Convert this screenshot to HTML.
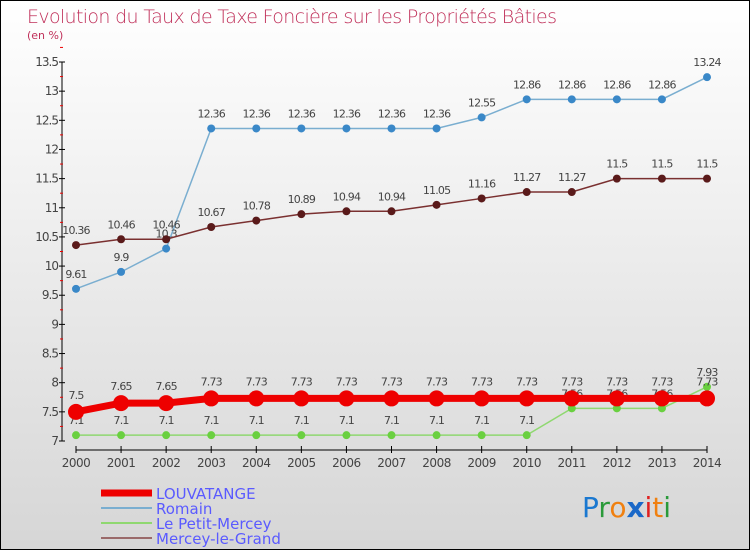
<!DOCTYPE html>
<html><head><meta charset="utf-8"><style>
body{margin:0}
#c{width:748px;height:548px;border:1px solid #000;background:linear-gradient(#ffffff,#d6d6d6);position:relative;font-family:"DejaVu Sans","Liberation Sans",sans-serif}
</style></head><body>
<div id="c">
<svg id="s" width="748" height="548">
<text x="26" y="22" font-size="19" fill="#c0305a" font-family="DejaVu Sans" font-weight="200" textLength="530">Evolution du Taux de Taxe Foncière sur les Propriétés Bâties</text>
<text x="26" y="38" font-size="11" fill="#c0305a">(en %)</text>
<g id="g"></g>
<g>
<line x1="100" y1="492" x2="151" y2="492" stroke="#ee0000" stroke-width="7"/>
<text x="155" y="498" font-size="15" fill="#5a5aff">LOUVATANGE</text>
<line x1="100" y1="507" x2="151" y2="507" stroke="#7aaed0" stroke-width="2"/>
<text x="155" y="513" font-size="15" fill="#5a5aff">Romain</text>
<line x1="100" y1="522" x2="151" y2="522" stroke="#8fd870" stroke-width="2"/>
<text x="155" y="528" font-size="15" fill="#5a5aff">Le Petit-Mercey</text>
<line x1="100" y1="537" x2="151" y2="537" stroke="#9a6a6a" stroke-width="2"/>
<text x="155" y="543" font-size="15" fill="#5a5aff">Mercey-le-Grand</text>
</g>
<g font-size="28" font-family="DejaVu Sans">
<text x="581" y="516"><tspan fill="#1a78d0">P</tspan><tspan fill="#2a9a3a">r</tspan><tspan fill="#f08010">o</tspan><tspan fill="#1a68c8" font-weight="bold">x</tspan><tspan fill="#e02020">i</tspan><tspan fill="#f08010">t</tspan><tspan fill="#2a9a3a">i</tspan></text>
</g>
</svg></div>
<script>
const years=[2000,2001,2002,2003,2004,2005,2006,2007,2008,2009,2010,2011,2012,2013,2014];
const louvatange=[7.5,7.65,7.65,7.73,7.73,7.73,7.73,7.73,7.73,7.73,7.73,7.73,7.73,7.73,7.73];
const romain=[9.61,9.9,10.3,12.36,12.36,12.36,12.36,12.36,12.36,12.55,12.86,12.86,12.86,12.86,13.24];
const petitMercey=[7.1,7.1,7.1,7.1,7.1,7.1,7.1,7.1,7.1,7.1,7.1,7.56,7.56,7.56,7.93];
const merceyGrand=[10.36,10.46,10.46,10.67,10.78,10.89,10.94,10.94,11.05,11.16,11.27,11.27,11.5,11.5,11.5];
const yTicks=[7,7.5,8,8.5,9,9.5,10,10.5,11,11.5,12,12.5,13,13.5];
const NS='http://www.w3.org/2000/svg';
const g=document.getElementById('g');
const X=y=>75+(y-2000)*(706-75)/14;
const Y=v=>440-(v-7)*(440-61)/6.5;
function mk(t,a,p){const e=document.createElementNS(NS,t);for(const k in a)e.setAttribute(k,a[k]);(p||g).appendChild(e);return e;}
mk('line',{x1:61,y1:Y(13.5),x2:61,y2:440,stroke:'#000'});
mk('line',{x1:75,y1:449,x2:706,y2:449,stroke:'#000'});
yTicks.forEach(v=>{const l=mk('line',{x1:58,y1:Y(v),x2:64,y2:Y(v),stroke:'#000'});


mk('line',{x1:59,y1:Y(v+0.25),x2:62,y2:Y(v+0.25),stroke:'#e00'});
const t=mk('text',{x:57,y:Y(v)+4,'font-size':12,fill:'#444','text-anchor':'end','letter-spacing':'-1'});t.textContent=v;

});
years.forEach(y=>{mk('line',{x1:X(y),y1:445,x2:X(y),y2:452,stroke:'#000'});
const t=mk('text',{x:X(y),y:466,'font-size':12,fill:'#444','text-anchor':'middle','letter-spacing':'-0.5'});t.textContent=y;

});
function series(d,col,w,r,name,dy){
const p=mk('polyline',{points:d.map((v,i)=>X(years[i])+','+Y(v)).join(' '),fill:'none',stroke:col,'stroke-width':w});


d.forEach((v,i)=>{const c=mk('circle',{cx:X(years[i]),cy:Y(v),r:r,fill:col});


const t=mk('text',{x:X(years[i]),y:Y(v)+dy,'font-size':11,fill:'#444','text-anchor':'middle','letter-spacing':'-0.8'});t.textContent=v;

});}
series(romain,'#7aaed0',1.5,4,'romain',-11);
mk('g',{});
series(merceyGrand,'#7a3030',1.5,4,'mercey-le-grand',-11);
series(petitMercey,'#8fd870',1.5,4,'le-petit-mercey',-11);
series(louvatange,'#ee0000',7,8,'louvatange',-13);
g.querySelectorAll('circle').forEach(c=>{if(c.getAttribute('fill')=='#7aaed0')c.setAttribute('fill','#3a88c8');if(c.getAttribute('fill')=='#7a3030')c.setAttribute('fill','#5a1a1a');if(c.getAttribute('fill')=='#8fd870')c.setAttribute('fill','#6ad040');});
</script>
</body></html>
